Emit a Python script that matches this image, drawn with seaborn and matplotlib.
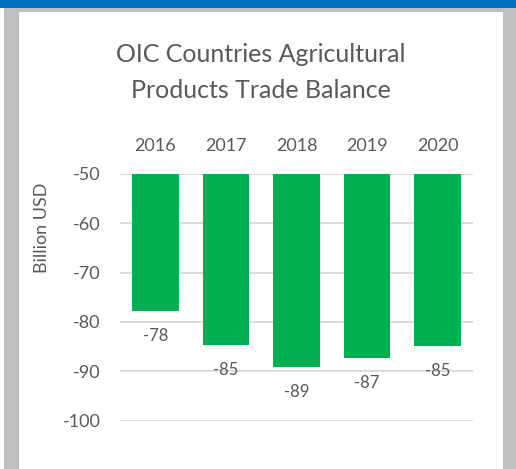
import matplotlib
matplotlib.use("Agg")
import matplotlib.pyplot as plt
import matplotlib.patches as mpatches
import seaborn as sns
import pandas as pd

years = ["2016", "2017", "2018", "2019", "2020"]
values = [-77.7, -84.7, -89.1, -87.4, -84.8]
yticks = [-100, -90, -80, -70, -60, -50]
title_lines = ["OIC Countries Agricultural", "Products Trade Balance"]
ylabel = "Billion USD"

sns.set_style("white")
plt.rcParams['font.family'] = ['Lato', 'DejaVu Sans']

W, H = 516, 469
fig = plt.figure(figsize=(W / 100, H / 100), dpi=100)
fig.patch.set_facecolor("white")

def px_rect(x0, y0, x1, y1, color):
    fig.patches.append(mpatches.Rectangle((x0 / W, 1 - y1 / H), (x1 - x0) / W, (y1 - y0) / H,
                                          transform=fig.transFigure, color=color, zorder=-5, lw=0))

px_rect(0, 0, W, 8, "#0070C0")
px_rect(4, 8, W, H, "#BFBFBF")
px_rect(19, 12, 503, H, "white")

text_col = "#595959"
ax = fig.add_axes([120 / W, 1 - 420.7 / H, 353 / W, (420.7 - 173.7) / H])
ax.set_zorder(2)
ax.set_facecolor("none")
df = pd.DataFrame({"year": years, "value": values})
sns.barplot(data=df, x="year", y="value", color="#00B050", width=0.66, ax=ax,
            saturation=1, zorder=3, linewidth=0)
ax.set_ylim(-100, -50)
ax.set_yticks(yticks)
ax.set_yticklabels([str(t) for t in yticks])
ax.set_xlim(-0.5, len(years) - 0.5)
ax.grid(axis="y", color="#D9D9D9", linewidth=1.3, zorder=0)
ax.set_axisbelow(True)
for s in ax.spines.values():
    s.set_visible(False)
ax.xaxis.tick_top()
ax.tick_params(axis="x", length=0, pad=14, labelsize=13, labelcolor=text_col)
ax.tick_params(axis="y", length=0, pad=14, labelsize=13, labelcolor=text_col)
ax.set_xlabel("")
ax.set_ylabel(ylabel, fontsize=13, color=text_col)
ax.yaxis.set_label_coords(-0.198, 0.78)

for i, v in enumerate(values):
    ax.annotate(f"{v:.0f}", xy=(i, v), xytext=(0, -18), textcoords="offset points",
                ha="center", va="center", fontsize=12, color=text_col)

for line, base in zip(title_lines, [61.7, 98.0]):
    fig.text(261 / W, 1 - base / H, line, ha="center", va="baseline", fontsize=18,
             color=text_col)

fig.savefig("out.png", dpi=100)
